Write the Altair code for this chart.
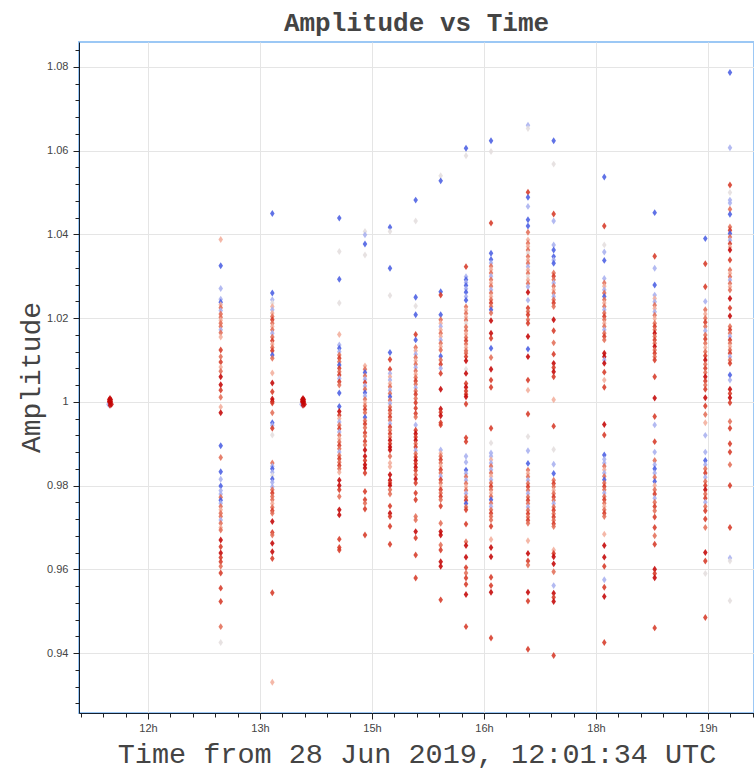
import altair as alt
import pandas as pd

# observation times (hours of day, UTC) for each vertical column of points
times = [12.974, 13.665, 14.562, 14.906, 15.241, 15.585, 15.920, 16.259,
         16.594, 17.089, 17.433, 18.111, 18.786, 19.464, 19.794]

# tone codes: B blue, L lavender, P pale, K pink, S salmon, R red, D dark red
amp_01 = [1.0388, 1.0325, 1.0271, 1.0245, 1.0238, 1.0232, 1.0225, 1.0218, 1.0210, 1.0202, 1.0195, 1.0188, 1.0180, 1.0172, 1.0165, 1.0155, 1.0124, 1.0108, 1.0095, 1.0083, 1.0073, 1.0060, 1.0041, 1.0028, 1.0011, 0.9988, 0.9974, 0.9895, 0.9867, 0.9833, 0.9815, 0.9799, 0.9788, 0.9780, 0.9772, 0.9765, 0.9758, 0.9750, 0.9742, 0.9734, 0.9726, 0.9718, 0.9710, 0.9700, 0.9694, 0.9670, 0.9654, 0.9639, 0.9628, 0.9618, 0.9607, 0.9591, 0.9555, 0.9523, 0.9463, 0.9425]
tone_01 = "KBLLBKSLSSKSSLSKRSRKSDDRSKDBSBLBLLSBLSKSSLSKSDRDRRSRRRSP"
amp_02 = [1.0450, 1.0260, 1.0244, 1.0236, 1.0228, 1.0220, 1.0212, 1.0204, 1.0196, 1.0188, 1.0180, 1.0172, 1.0164, 1.0155, 1.0146, 1.0138, 1.0130, 1.0122, 1.0112, 1.0104, 1.0069, 1.0045, 1.0024, 1.0007, 1.0001, 0.9997, 0.9974, 0.9950, 0.9944, 0.9937, 0.9921, 0.9854, 0.9846, 0.9840, 0.9832, 0.9824, 0.9816, 0.9808, 0.9797, 0.9790, 0.9782, 0.9774, 0.9766, 0.9757, 0.9748, 0.9740, 0.9734, 0.9714, 0.9688, 0.9682, 0.9662, 0.9642, 0.9626, 0.9544, 0.9330]
tone_02 = "BBLPKLKSRSKSLSRKSRBSKDRDDRSBLRPSLBLPBLLSRSSKSRSDRSDDRRK"
amp_03 = [1.0439, 1.0359, 1.0293, 1.0236, 1.0161, 1.0136, 1.0128, 1.0120, 1.0112, 1.0104, 1.0096, 1.0088, 1.0080, 1.0072, 1.0064, 1.0056, 1.0048, 1.0040, 1.0021, 0.9989, 0.9977, 0.9968, 0.9960, 0.9952, 0.9944, 0.9936, 0.9928, 0.9920, 0.9912, 0.9904, 0.9896, 0.9888, 0.9880, 0.9872, 0.9864, 0.9856, 0.9848, 0.9840, 0.9832, 0.9813, 0.9800, 0.9790, 0.9774, 0.9742, 0.9730, 0.9672, 0.9652, 0.9646]
tone_03 = "BPBPKLBLSRSBRSRLRSBBDRKLSRLSKSRSLSRSRSKDDRSDDRRR"
amp_04 = [1.0407, 1.0399, 1.0377, 1.0351, 1.0086, 1.0078, 1.0070, 1.0062, 1.0054, 1.0046, 1.0038, 1.0030, 1.0022, 1.0014, 1.0006, 0.9998, 0.9990, 0.9982, 0.9974, 0.9963, 0.9955, 0.9947, 0.9938, 0.9926, 0.9918, 0.9906, 0.9897, 0.9885, 0.9870, 0.9860, 0.9850, 0.9842, 0.9830, 0.9786, 0.9766, 0.9758, 0.9744, 0.9682]
tone_04 = "PLBPKSBSLRLSBLSKSRSBSRSRSRSDDRDDRRRSRR"
amp_05 = [1.0417, 1.0407, 1.0319, 1.0254, 1.0118, 1.0101, 1.0078, 1.0068, 1.0060, 1.0052, 1.0044, 1.0036, 1.0028, 1.0020, 1.0012, 1.0004, 0.9996, 0.9988, 0.9980, 0.9972, 0.9964, 0.9956, 0.9948, 0.9940, 0.9932, 0.9924, 0.9916, 0.9908, 0.9900, 0.9892, 0.9885, 0.9870, 0.9854, 0.9845, 0.9826, 0.9813, 0.9806, 0.9800, 0.9790, 0.9780, 0.9751, 0.9734, 0.9726, 0.9703, 0.9660]
tone_05 = "BPBPBRRLKLKSLSBSLSRSRSLRSRSDRDDSKKDDRDSSRDRRR"
amp_06 = [1.0482, 1.0432, 1.0250, 1.0229, 1.0208, 1.0161, 1.0148, 1.0130, 1.0122, 1.0114, 1.0106, 1.0098, 1.0090, 1.0082, 1.0074, 1.0066, 1.0058, 1.0050, 1.0042, 1.0034, 1.0026, 1.0018, 1.0008, 0.9998, 0.9985, 0.9972, 0.9964, 0.9945, 0.9932, 0.9924, 0.9916, 0.9908, 0.9900, 0.9892, 0.9884, 0.9876, 0.9868, 0.9860, 0.9852, 0.9844, 0.9836, 0.9826, 0.9816, 0.9806, 0.9782, 0.9766, 0.9726, 0.9718, 0.9690, 0.9675, 0.9634, 0.9579]
tone_06 = "BPBPBRBSKLSKSLSKSRSLSRSRRRSLRDRDSRLSRDRDRSDRRRSSDRRR"
amp_07 = [1.0540, 1.0528, 1.0263, 1.0255, 1.0208, 1.0196, 1.0188, 1.0180, 1.0172, 1.0164, 1.0156, 1.0148, 1.0140, 1.0132, 1.0124, 1.0109, 1.0100, 1.0090, 1.0080, 1.0068, 1.0030, 0.9983, 0.9975, 0.9967, 0.9950, 0.9945, 0.9885, 0.9877, 0.9870, 0.9862, 0.9854, 0.9846, 0.9838, 0.9830, 0.9822, 0.9814, 0.9806, 0.9798, 0.9790, 0.9782, 0.9774, 0.9766, 0.9751, 0.9710, 0.9690, 0.9682, 0.9658, 0.9646, 0.9618, 0.9607, 0.9527]
tone_07 = "PBBRBSKLKSKLSKSBSRLRDDRDRRLKSRSKRSLRSKRSRSRSDDSRDDR"
amp_08 = [1.0606, 1.0588, 1.0323, 1.0299, 1.0292, 1.0285, 1.0278, 1.0270, 1.0262, 1.0252, 1.0243, 1.0227, 1.0219, 1.0211, 1.0203, 1.0195, 1.0187, 1.0179, 1.0170, 1.0162, 1.0154, 1.0146, 1.0138, 1.0130, 1.0122, 1.0116, 1.0108, 1.0098, 1.0078, 1.0068, 1.0044, 1.0035, 1.0026, 1.0018, 1.0012, 0.9995, 0.9914, 0.9905, 0.9870, 0.9856, 0.9837, 0.9829, 0.9821, 0.9813, 0.9805, 0.9797, 0.9789, 0.9781, 0.9773, 0.9765, 0.9757, 0.9749, 0.9742, 0.9708, 0.9666, 0.9657, 0.9629, 0.9604, 0.9591, 0.9579, 0.9564, 0.9540, 0.9463]
tone_08 = "BPRLBLBLBLBSKSKSPSSKSRSKSSRDPDRDRRDRRRLLBLSLSKSLSRBSRRSDDRSRRDR"
amp_09 = [1.0624, 1.0598, 1.0427, 1.0355, 1.0340, 1.0332, 1.0324, 1.0316, 1.0308, 1.0300, 1.0292, 1.0284, 1.0276, 1.0268, 1.0260, 1.0252, 1.0244, 1.0236, 1.0228, 1.0220, 1.0212, 1.0194, 1.0164, 1.0152, 1.0128, 1.0106, 1.0078, 1.0052, 1.0035, 0.9937, 0.9902, 0.9878, 0.9870, 0.9862, 0.9854, 0.9846, 0.9838, 0.9830, 0.9822, 0.9814, 0.9806, 0.9798, 0.9790, 0.9782, 0.9774, 0.9766, 0.9758, 0.9750, 0.9742, 0.9734, 0.9726, 0.9718, 0.9703, 0.9671, 0.9652, 0.9630, 0.9581, 0.9561, 0.9545, 0.9436]
tone_09 = "BPRBBLSKSLSKSLSKSRSBSDDRBSDRRRPLLKLSLSKLSRSKSBSLSRSSRKDDRRDR"
amp_10 = [1.0661, 1.0653, 1.0501, 1.0489, 1.0467, 1.0435, 1.0420, 1.0405, 1.0387, 1.0379, 1.0371, 1.0363, 1.0355, 1.0347, 1.0339, 1.0331, 1.0323, 1.0315, 1.0307, 1.0299, 1.0291, 1.0283, 1.0275, 1.0262, 1.0243, 1.0224, 1.0216, 1.0208, 1.0196, 1.0188, 1.0156, 1.0126, 1.0108, 1.0052, 1.0028, 0.9971, 0.9917, 0.9883, 0.9853, 0.9837, 0.9829, 0.9821, 0.9813, 0.9805, 0.9797, 0.9789, 0.9781, 0.9773, 0.9765, 0.9757, 0.9749, 0.9741, 0.9733, 0.9725, 0.9717, 0.9710, 0.9668, 0.9638, 0.9620, 0.9610, 0.9545, 0.9524, 0.9409]
tone_10 = "LPRBLBBSKSKSPSKSLKSPKSLDLRSRSRDBDRKRPLBSKSLSRSLSRSLSRSRSKDRSDRR"
amp_11 = [1.0624, 1.0568, 1.0449, 1.0432, 1.0375, 1.0363, 1.0347, 1.0339, 1.0331, 1.0308, 1.0300, 1.0292, 1.0284, 1.0276, 1.0268, 1.0260, 1.0252, 1.0244, 1.0236, 1.0228, 1.0196, 1.0170, 1.0141, 1.0114, 1.0092, 1.0082, 1.0072, 1.0060, 1.0005, 0.9942, 0.9886, 0.9851, 0.9829, 0.9813, 0.9805, 0.9797, 0.9789, 0.9781, 0.9773, 0.9765, 0.9757, 0.9749, 0.9741, 0.9733, 0.9725, 0.9717, 0.9709, 0.9702, 0.9646, 0.9638, 0.9630, 0.9613, 0.9594, 0.9561, 0.9543, 0.9533, 0.9523, 0.9394]
tone_11 = "BPRLLBBLBSRSLSKSLSRSDRSRDRDRKRPLBSRSKSRSLSRSRSRSKRDDSLDRDR"
amp_12 = [1.0537, 1.0420, 1.0375, 1.0358, 1.0338, 1.0295, 1.0284, 1.0276, 1.0268, 1.0260, 1.0252, 1.0244, 1.0236, 1.0228, 1.0220, 1.0212, 1.0204, 1.0196, 1.0188, 1.0180, 1.0172, 1.0164, 1.0156, 1.0148, 1.0116, 1.0108, 1.0100, 1.0092, 1.0071, 1.0052, 1.0035, 0.9946, 0.9921, 0.9873, 0.9863, 0.9854, 0.9846, 0.9838, 0.9830, 0.9822, 0.9814, 0.9806, 0.9798, 0.9790, 0.9782, 0.9774, 0.9766, 0.9758, 0.9750, 0.9742, 0.9734, 0.9726, 0.9684, 0.9657, 0.9629, 0.9607, 0.9575, 0.9557, 0.9535, 0.9425]
tone_12 = "BRPLBLSKLSBSKSLSRSKSLSRSDDLDRKRDRBLLSKLSBSRSLSRSKSRSKDDRLRDR"
amp_13 = [1.0452, 1.0348, 1.0319, 1.0279, 1.0255, 1.0247, 1.0239, 1.0231, 1.0223, 1.0215, 1.0207, 1.0199, 1.0188, 1.0180, 1.0172, 1.0164, 1.0156, 1.0148, 1.0140, 1.0132, 1.0124, 1.0116, 1.0108, 1.0100, 1.0060, 1.0009, 0.9965, 0.9945, 0.9905, 0.9880, 0.9860, 0.9850, 0.9840, 0.9830, 0.9820, 0.9810, 0.9800, 0.9790, 0.9780, 0.9770, 0.9760, 0.9750, 0.9740, 0.9725, 0.9700, 0.9680, 0.9660, 0.9600, 0.9590, 0.9580, 0.9460]
tone_13 = "BRLBLKLSKLSKSRSDSRSDSRSRRDRLRLSLBLSBKSRLSRSRRSRDRDR"
amp_14 = [1.0390, 1.0330, 1.0275, 1.0240, 1.0220, 1.0210, 1.0200, 1.0190, 1.0180, 1.0170, 1.0160, 1.0150, 1.0140, 1.0130, 1.0120, 1.0110, 1.0100, 1.0090, 1.0080, 1.0070, 1.0060, 1.0050, 1.0040, 1.0030, 1.0010, 0.9990, 0.9970, 0.9950, 0.9920, 0.9880, 0.9860, 0.9850, 0.9840, 0.9830, 0.9820, 0.9810, 0.9800, 0.9790, 0.9780, 0.9770, 0.9760, 0.9750, 0.9740, 0.9720, 0.9700, 0.9640, 0.9620, 0.9590, 0.9485]
tone_14 = "BRRLSKSRSLSRSKSRDSRSDRSRDRSKLLBLSRLSRDSRLSRRSDRPR"
amp_15 = [1.0787, 1.0607, 1.0518, 1.0500, 1.0482, 1.0475, 1.0460, 1.0448, 1.0418, 1.0410, 1.0402, 1.0394, 1.0386, 1.0378, 1.0370, 1.0363, 1.0339, 1.0315, 1.0307, 1.0299, 1.0291, 1.0283, 1.0275, 1.0267, 1.0247, 1.0224, 1.0205, 1.0180, 1.0172, 1.0164, 1.0156, 1.0148, 1.0140, 1.0132, 1.0124, 1.0116, 1.0108, 1.0100, 1.0092, 1.0064, 1.0052, 1.0030, 1.0020, 1.0010, 0.9998, 0.9953, 0.9937, 0.9900, 0.9880, 0.9850, 0.9800, 0.9700, 0.9627, 0.9620, 0.9525]
tone_15 = "BLRPLLSBSRBSLRKDRSKSLSKSDRDSRSLRSKSRLSRBLDRDRSRRRSRRLPP"

# reference points (stacked at amplitude 1) before the observations
ref_times = [11.470, 11.480, 11.491, 11.502, 11.512, 11.491, 11.480, 11.502, 11.491,
             14.055, 14.065, 14.076, 14.087, 14.097, 14.076, 14.065, 14.087, 14.076]
ref_amps = [0.9994, 1.0000, 1.0000, 1.0000, 0.9994, 0.9992, 1.0005, 1.0005, 1.0008,
            0.9994, 1.0000, 1.0000, 1.0000, 0.9994, 0.9992, 1.0005, 1.0005, 1.0008]
ref_tone = "LDDDDDDDD" + "LDDDDDDDD"

tone_codes = ["B", "L", "P", "K", "S", "R", "D"]
tone_colors = ["#4a5ee2", "#a9b1ef", "#e4dede", "#f2ae9c", "#e26e58", "#d63a28", "#c40606"]

amps = [amp_01, amp_02, amp_03, amp_04, amp_05, amp_06, amp_07, amp_08,
        amp_09, amp_10, amp_11, amp_12, amp_13, amp_14, amp_15]
tones = [tone_01, tone_02, tone_03, tone_04, tone_05, tone_06, tone_07, tone_08,
         tone_09, tone_10, tone_11, tone_12, tone_13, tone_14, tone_15]

rows = []
for t, a_list, t_str in zip(times, amps, tones):
    for a, c in zip(a_list, t_str):
        rows.append({"hour": t, "amp": a, "tone": c})
for t, a, c in zip(ref_times, ref_amps, ref_tone):
    rows.append({"hour": t, "amp": a, "tone": c})
df = pd.DataFrame(rows)

x_major = [12, 13.5, 15, 16.5, 18, 19.5]
y_major = [0.94, 0.96, 0.98, 1.0, 1.02, 1.04, 1.06, 1.08]
x_minor = [round(11.1 + 0.3 * i, 2) for i in range(31)]
x_minor = [v for v in x_minor if all(abs(v - m) > 1e-6 for m in x_major)]
y_minor = [round(0.928 + 0.004 * i, 3) for i in range(40)]
y_minor = [v for v in y_minor if all(abs(v - m) > 1e-6 for m in y_major)]

xscale = alt.Scale(domain=[11.076, 20.116], nice=False, zero=False)
yscale = alt.Scale(domain=[0.92567, 1.08597], nice=False, zero=False)

diamond = "M0,-1L0.66,0L0,1L-0.66,0Z"

points = alt.Chart(df).mark_point(
    shape=diamond, filled=True, size=48, opacity=0.88, strokeWidth=0
).encode(
    x=alt.X("hour:Q", scale=xscale, axis=alt.Axis(
        orient="bottom", values=x_major, labelExpr="floor(datum.value) + 'h'",
        title="Time from 28 Jun 2019, 12:01:34 UTC",
        titleFont="Liberation Mono", titleFontSize=28.5, titleFontWeight="normal",
        titleColor="#444444", titleY=49, titleBaseline="alphabetic",
        grid=True, gridColor="#e5e5e5", tickSize=6, tickColor="#222222",
        domainColor="#15202e", labelFont="Liberation Sans", labelFontSize=11,
        labelColor="#444444", labelPadding=3)),
    y=alt.Y("amp:Q", scale=yscale, axis=alt.Axis(
        orient="left", values=y_major, format="~g",
        title="Amplitude", titleFont="Liberation Mono", titleFontSize=28,
        titleFontWeight="normal", titleColor="#444444", titleAngle=270,
        titleX=-48, titleY=335, titleBaseline="middle", titleAlign="center",
        grid=True, gridColor="#e5e5e5", tickSize=6, tickColor="#222222",
        domainColor="#15202e", labelFont="Liberation Sans", labelFontSize=11,
        labelColor="#444444", labelPadding=5)),
    color=alt.Color("tone:N", scale=alt.Scale(domain=tone_codes, range=tone_colors), legend=None),
)

minor = alt.Chart(df).mark_point(opacity=0).encode(
    x=alt.X("hour:Q", scale=xscale, axis=alt.Axis(
        orient="bottom", values=x_minor, labels=False, grid=False, domain=False,
        tickSize=4, tickColor="#222222", title=None)),
    y=alt.Y("amp:Q", scale=yscale, axis=alt.Axis(
        orient="left", values=y_minor, labels=False, grid=False, domain=False,
        tickSize=4, tickColor="#222222", title=None)),
)

chart = alt.layer(minor, points).resolve_axis(
    x="independent", y="independent"
).properties(
    width=675, height=671,
    autosize=alt.AutoSizeParams(type="none"),
    padding={"left": 79, "top": 42, "right": 0, "bottom": 58},
    title=alt.Title("Amplitude vs Time", font="Liberation Mono", fontSize=26,
                    fontWeight="bold", color="#444444", anchor="middle", offset=6),
).configure_view(
    stroke="#9cc8f5", strokeWidth=2
)

chart.save("out.html", embed_options={"renderer": "svg", "actions": False})
